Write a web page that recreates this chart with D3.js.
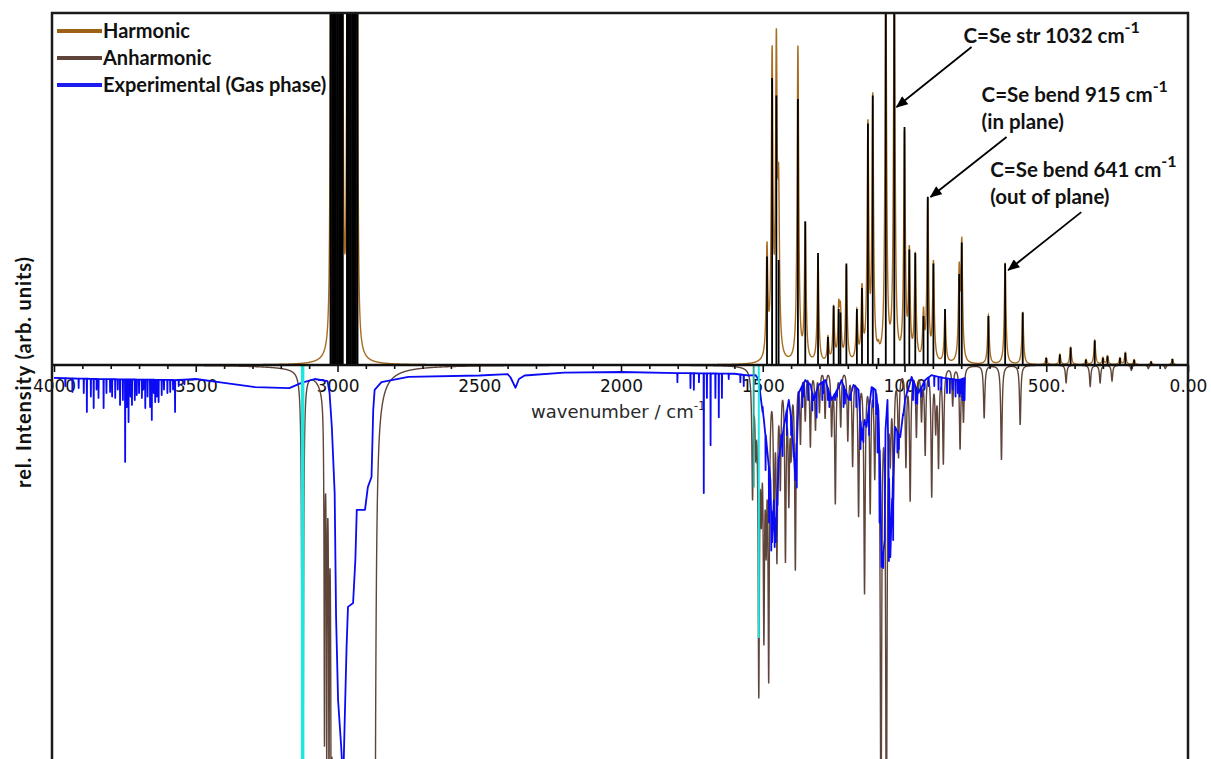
<!DOCTYPE html>
<html>
<head>
<meta charset="utf-8">
<script src="https://cdn.jsdelivr.net/npm/d3@7"></script>
<style>
  body { margin: 0; background: #fff; }
  svg { display: block; }
</style>
</head>
<body>
<svg id="chart" width="1211" height="759"></svg>
<script>
// harmonic stick spectrum, upward: [wavenumber, stick height, band amplitude]
const harmonicPeaks = [
  [3024, 1.1, 1.0], [3018, 1.1, 1.0], [3012, 1.1, 1.0], [3006, 1.1, 1.0], [3000, 1.1, 1.0],
  [2994, 1.1, 1.0], [2988, 1.1, 1.0], [2982, 1.1, 1.0],
  [2966, 1.1, 1.0], [2960, 1.1, 1.0], [2954, 1.1, 1.0], [2948, 1.1, 1.0], [2942, 1.1, 1.0],
  [2936, 1.1, 1.0], [2930, 1.1, 1.0],
  [1485, 0.31, 0.31], [1467, 0.82, 0.85], [1452, 0.77, 0.85], [1444, 0.30, 0.42], [1376, 0.76, 0.9],
  [1350, 0.41, 0.39], [1305, 0.32, 0.3], [1270, 0.08, 0.07], [1250, 0.17, 0.15], [1232, 0.16, 0.14],
  [1226, 0.15, 0.13], [1205, 0.29, 0.27], [1168, 0.16, 0.14], [1150, 0.22, 0.2], [1129, 0.69, 0.66],
  [1112, 0.77, 0.74], [1092, 0.02, 0.02], [1066, 1.2, 1.1], [1036, 1.2, 1.1], [1000, 0.68, 0.64],
  [983, 0.33, 0.3], [962, 0.32, 0.3], [933, 0.14, 0.13], [918, 0.48, 0.46], [898, 0.29, 0.28],
  [857, 0.16, 0.15], [807, 0.26, 0.25], [798, 0.35, 0.33], [704, 0.14, 0.14], [645, 0.29, 0.29],
  [583, 0.15, 0.15], [500, 0.02, 0.02], [452, 0.03, 0.03], [414, 0.05, 0.05], [360, 0.015, 0.015],
  [329, 0.07, 0.07], [300, 0.02, 0.02], [284, 0.025, 0.025], [240, 0.02, 0.02], [221, 0.035, 0.035],
  [190, 0.015, 0.015], [130, 0.01, 0.01], [55, 0.017, 0.017]
]

// anharmonic bands, drawn downward: C-H region [wavenumber, depth, hwhm]
const anharmonicCH = [
  [3123, 2.5, 2.0],
  [3046, 0.95, 1.5], [3038, 0.95, 1.5], [3030, 0.95, 1.5], [3022, 0.95, 1.5],
  [3014, 1.6, 4], [3006, 1.6, 4], [2998, 1.6, 4], [2990, 1.6, 4], [2982, 1.6, 4], [2974, 1.6, 4],
  [2966, 1.6, 4], [2958, 1.6, 4], [2950, 1.6, 4], [2942, 1.6, 4], [2934, 1.6, 4], [2926, 1.6, 4],
  [2918, 1.6, 4], [2910, 1.6, 4], [2902, 1.6, 4], [2894, 1.6, 4], [2886, 1.6, 4], [2878, 1.6, 4],
  [2870, 1.6, 4]
]

// anharmonic bands, fingerprint region: [wavenumber, depth]
const anharmonicFP = [
  [1536, 0.35], [1525, 0.18], [1514, 0.88], [1505, 0.3], [1496, 0.68], [1488, 0.38], [1479, 0.83],
  [1460, 0.4], [1450, 0.5], [1438, 0.3], [1420, 0.52], [1408, 0.34], [1400, 0.2], [1385, 0.56],
  [1367, 0.2], [1350, 0.14], [1332, 0.22], [1314, 0.17], [1300, 0.12], [1280, 0.14], [1257, 0.18],
  [1244, 0.38], [1225, 0.16], [1200, 0.2], [1183, 0.27], [1162, 0.41], [1141, 0.63], [1121, 0.39],
  [1105, 0.28], [1083, 1.4], [1064, 1.4], [1050, 0.2], [1039, 0.34], [1021, 0.24], [995, 0.27],
  [980, 0.37], [958, 0.19], [940, 0.14], [927, 0.24], [904, 0.36], [890, 0.16], [880, 0.27],
  [863, 0.27], [830, 0.11], [804, 0.23], [792, 0.15], [719, 0.15], [658, 0.27], [592, 0.17],
  [430, 0.05], [345, 0.06], [310, 0.05], [268, 0.045], [200, 0.015], [140, 0.01], [80, 0.01]
]

// experimental gas phase trace (depth below axis): [wavenumber, depth]
const expProfile = [
  [4000, 0.037], [3850, 0.04], [3570, 0.043], [3500, 0.04], [3400, 0.051], [3290, 0.063],
  [3170, 0.066], [3127, 0.051], [3080, 0.04], [3035, 0.046], [3028, 0.08], [3020, 0.177],
  [3010, 0.366], [3005, 0.72], [2998, 0.957], [2987, 1.09], [2980, 1.2], [2975, 1.03],
  [2968, 0.806], [2963, 0.691], [2945, 0.68], [2937, 0.557], [2932, 0.414], [2903, 0.414],
  [2893, 0.349], [2880, 0.32], [2874, 0.129], [2869, 0.071], [2845, 0.049], [2750, 0.034],
  [2500, 0.03], [2400, 0.026], [2390, 0.035], [2372, 0.065], [2360, 0.04], [2340, 0.03],
  [2200, 0.022], [2000, 0.02], [1800, 0.023], [1600, 0.025], [1550, 0.03],
  [1525, 0.029], [1514, 0.043], [1507, 0.094], [1496, 0.157], [1486, 0.229], [1473, 0.329],
  [1467, 0.506], [1461, 0.386], [1454, 0.506], [1444, 0.271], [1426, 0.177], [1408, 0.1],
  [1398, 0.157], [1385, 0.329], [1373, 0.08], [1350, 0.043], [1331, 0.057], [1320, 0.1],
  [1303, 0.057], [1279, 0.043], [1257, 0.1], [1232, 0.063], [1222, 0.043], [1197, 0.1],
  [1180, 0.057], [1162, 0.071], [1151, 0.214], [1141, 0.157], [1134, 0.177], [1116, 0.063],
  [1102, 0.071], [1092, 0.129], [1085, 0.329], [1081, 0.577], [1070, 0.5], [1067, 0.186],
  [1060, 0.1], [1050, 0.549], [1046, 0.443], [1033, 0.177], [1015, 0.206], [998, 0.1],
  [975, 0.034], [951, 0.08], [927, 0.043], [905, 0.029], [863, 0.037], [810, 0.043], [785, 0.037]
]

// sharp lines in the experimental trace: [wavenumber, depth]
const expSpikes = [
  [3960, 0.06], [3935, 0.077], [3913, 0.066], [3895, 0.08], [3884, 0.134], [3870, 0.09],
  [3860, 0.123], [3850, 0.07], [3843, 0.094], [3825, 0.123], [3815, 0.08], [3802, 0.077],
  [3795, 0.09], [3784, 0.094], [3775, 0.07], [3767, 0.114], [3757, 0.1], [3749, 0.277],
  [3743, 0.12], [3737, 0.163], [3730, 0.09], [3725, 0.114], [3715, 0.1], [3708, 0.086],
  [3700, 0.08], [3690, 0.094], [3685, 0.07], [3678, 0.123], [3670, 0.09], [3661, 0.12],
  [3655, 0.157], [3648, 0.08], [3643, 0.106], [3637, 0.09], [3631, 0.106], [3620, 0.086],
  [3612, 0.07], [3600, 0.08], [3590, 0.077], [3580, 0.07], [3573, 0.134], [3560, 0.06], [3540, 0.055],
  [1801, 0.049], [1755, 0.066], [1743, 0.071], [1725, 0.049], [1708, 0.366], [1697, 0.094],
  [1684, 0.229], [1667, 0.094], [1655, 0.149], [1644, 0.094], [1620, 0.04], [1579, 0.049],
  [1567, 0.06],
  [1500, 0.12], [1490, 0.3], [1478, 0.45], [1470, 0.53], [1458, 0.52], [1448, 0.4], [1435, 0.2],
  [1430, 0.26], [1415, 0.2], [1400, 0.2], [1390, 0.25], [1380, 0.35], [1360, 0.12], [1355, 0.09],
  [1340, 0.1], [1325, 0.13], [1310, 0.15], [1290, 0.1], [1285, 0.08], [1270, 0.1], [1265, 0.12],
  [1245, 0.1], [1238, 0.09], [1215, 0.12], [1210, 0.11], [1190, 0.1], [1170, 0.12], [1155, 0.24],
  [1145, 0.22], [1125, 0.2], [1110, 0.12], [1100, 0.14], [1095, 0.25], [1088, 0.45], [1075, 0.58],
  [1055, 0.56], [1043, 0.45], [1040, 0.5], [1025, 0.25], [1020, 0.24], [1005, 0.14], [990, 0.07],
  [970, 0.1], [960, 0.11], [955, 0.11], [940, 0.09], [930, 0.07], [915, 0.06], [895, 0.06],
  [880, 0.07], [870, 0.07], [850, 0.08], [840, 0.08], [830, 0.07], [820, 0.09], [812, 0.08],
  [805, 0.09], [800, 0.08], [795, 0.1], [790, 0.1], [788, 0.1]
]

// cyan marker lines below the axis: [wavenumber, depth]
const markerLines = [[3123, 1.2], [1532, 0.35], [1514, 0.78]]

const majorTicks = [4000, 3500, 3000, 2500, 2000, 1500, 1000, 500, 0]
const majorLabels = ['4000', '3500', '3000', '2500', '2000', '1500', '1000', '500.', '0.00']
const minorTicks = d3.range(3900, 0, -100).filter(v => v % 500 !== 0)

const legendItems = [
  { name: 'Harmonic', color: '#9c6114' },
  { name: 'Anharmonic', color: '#5f4439' },
  { name: 'Experimental (Gas phase)', color: '#1c1cf0' }
]

const annotations = [
  { lines: ['C=Se str 1032 cm'], wn: 1028, val: 0.737 },
  { lines: ['C=Se bend 915 cm', '(in plane)'], wn: 908, val: 0.48 },
  { lines: ['C=Se bend 641 cm', '(out of plane)'], wn: 634, val: 0.271 }
]

const svg = d3.select('#chart')
const frame = { left: 52, right: 1188, top: 13, bottom: 759 }

const x = d3.scaleLinear().domain([4000, 0]).range([54, 1188])
const y = d3.scaleLinear().domain([-1, 1]).range([715, 15])

svg.append('defs').append('clipPath').attr('id', 'plotclip')
  .append('rect')
  .attr('x', frame.left).attr('y', frame.top + 1)
  .attr('width', frame.right - frame.left).attr('height', frame.bottom - frame.top)

svg.append('defs').append('marker')
  .attr('id', 'arrow')
  .attr('viewBox', '0 0 12 10')
  .attr('refX', 11).attr('refY', 5)
  .attr('markerWidth', 13).attr('markerHeight', 10)
  .attr('markerUnits', 'userSpaceOnUse')
  .attr('orient', 'auto')
  .append('path').attr('d', 'M0,0 L12,5 L0,10 Z').attr('fill', '#000')

// tick labels sit behind the traces
const labelAxis = svg.append('g')
  .attr('transform', `translate(0,${y(0)})`)
  .call(d3.axisBottom(x).tickValues(majorTicks).tickSize(0).tickPadding(15)
    .tickFormat((d, i) => majorLabels[i]))
labelAxis.select('.domain').remove()
labelAxis.selectAll('text')
  .style('font-family', 'DejaVu Sans')
  .style('font-size', '17px')
  .attr('fill', '#111')

// axis title
const title = svg.append('text')
  .attr('x', 531).attr('y', 418)
  .style('font-family', 'DejaVu Sans')
  .style('font-size', '18px')
  .attr('fill', '#2a2a2a')
title.append('tspan').text('wavenumber / cm')
title.append('tspan').attr('dy', -8).style('font-size', '12px').text('-1')

// band shapes
const grid = d3.range(4000, -0.001, -0.25)
function lorentzSum(peaks, amp, width) {
  return grid.map(w => {
    let s = 0
    for (const p of peaks) {
      const g = width(p), d = w - p[0]
      s += amp(p) * g * g / (d * d + g * g)
    }
    return [w, s]
  })
}

const harmonicCurve = lorentzSum(harmonicPeaks, p => p[2], p => p[0] > 2500 ? 2.5 : 3.4)
const anhCH = lorentzSum(anharmonicCH, p => p[1], p => p[2])
const anhFP = lorentzSum(anharmonicFP, p => p[1], () => 2.8)
const anharmonicCurve = anhCH.map((d, i) => [d[0], -(d[1] + anhFP[i][1])])

const plot = svg.append('g').attr('clip-path', 'url(#plotclip)')
const line = d3.line().x(d => x(d[0])).y(d => y(d[1]))

// harmonic, upward
plot.append('path')
  .datum(harmonicCurve)
  .attr('d', line)
  .attr('fill', 'none')
  .attr('stroke', '#a86c20')
  .attr('stroke-width', 1.4)

plot.selectAll('line.stick')
  .data(harmonicPeaks)
  .join('line')
  .attr('class', 'stick')
  .attr('x1', d => x(d[0])).attr('x2', d => x(d[0]))
  .attr('y1', y(0)).attr('y2', d => y(d[1]))
  .attr('stroke', '#000')
  .attr('stroke-width', d => d[0] > 2500 ? 2.2 : 1.8)

// anharmonic, downward
plot.append('path')
  .datum(anharmonicCurve)
  .attr('d', line)
  .attr('fill', 'none')
  .attr('stroke', '#5f4439')
  .attr('stroke-width', 1.4)

// experimental
const baseAt = d3.scaleLinear()
  .domain(expProfile.map(d => d[0]))
  .range(expProfile.map(d => d[1]))
const expPts = expProfile.slice()
expSpikes.forEach(([w, t]) => {
  const b = baseAt(w)
  expPts.push([w + 0.7, b], [w, t], [w - 0.7, b])
})
expPts.sort((a, b) => b[0] - a[0])

plot.append('path')
  .datum(expPts.map(d => [d[0], -d[1]]))
  .attr('d', line)
  .attr('fill', 'none')
  .attr('stroke', '#0a0af5')
  .attr('stroke-width', 1.8)
  .attr('stroke-linejoin', 'round')

plot.selectAll('line.marker')
  .data(markerLines)
  .join('line')
  .attr('class', 'marker')
  .attr('x1', d => x(d[0])).attr('x2', d => x(d[0]))
  .attr('y1', y(0)).attr('y2', d => y(-d[1]))
  .attr('stroke', (d, i) => i === 1 ? '#2aa89a' : '#1ce6e0')
  .attr('stroke-width', (d, i) => i === 0 ? 3.5 : 2)

// axis line with ticks on top of the traces
const tickAxis = svg.append('g').attr('transform', `translate(0,${y(0)})`)
tickAxis.call(d3.axisBottom(x).tickValues(minorTicks).tickSize(4).tickSizeOuter(0).tickFormat(''))
tickAxis.append('g').call(d3.axisBottom(x).tickValues(majorTicks).tickSize(7).tickSizeOuter(0).tickFormat(''))
  .select('.domain').remove()
tickAxis.selectAll('.tick line').attr('stroke', '#111').attr('stroke-width', 1.6)
tickAxis.select('.domain').attr('stroke', '#111').attr('stroke-width', 2.5)
  .attr('d', `M${frame.left},0H${frame.right}`)

// frame
svg.append('path')
  .attr('d', `M${frame.left},${frame.bottom}V${frame.top}H${frame.right}V${frame.bottom}`)
  .attr('fill', 'none')
  .attr('stroke', '#1a1a1a')
  .attr('stroke-width', 2.5)

// y axis title
svg.append('text')
  .attr('transform', 'translate(31,372) rotate(-90)')
  .attr('text-anchor', 'middle')
  .style('font-family', 'Lato')
  .style('font-weight', 'bold')
  .style('font-size', '20px')
  .style('letter-spacing', '0.9px')
  .attr('fill', '#111')
  .text('rel. Intensity (arb. units)')

// legend
const legend = svg.append('g')
legendItems.forEach((it, i) => {
  const ly = 31 + i * 27
  legend.append('line')
    .attr('x1', 57).attr('x2', 102).attr('y1', ly).attr('y2', ly)
    .attr('stroke', it.color).attr('stroke-width', 4)
  legend.append('text')
    .attr('x', 103).attr('y', ly + 7)
    .style('font-family', 'Lato')
    .style('font-weight', 'bold')
    .style('font-size', '20px')
    .attr('fill', '#111')
    .text(it.name)
})

// annotations with arrows
const labelOffsets = [
  { tx: 67, ty: -64, ax: 75, ay: -60 },
  { tx: 51, ty: -95, ax: 76, ay: -60 },
  { tx: -18, ty: -93, ax: 73, ay: -58 }
]
const ann = svg.append('g')
annotations.forEach((a, i) => {
  const px = x(a.wn), py = y(a.val), o = labelOffsets[i]
  ann.append('line')
    .attr('x1', px + o.ax).attr('y1', py + o.ay)
    .attr('x2', px).attr('y2', py)
    .attr('stroke', '#000').attr('stroke-width', 1.8)
    .attr('marker-end', 'url(#arrow)')
  a.lines.forEach((ln, j) => {
    const t = ann.append('text')
      .attr('x', px + o.tx).attr('y', py + o.ty + j * 27)
      .style('font-family', 'Lato')
      .style('font-weight', 'bold')
      .style('font-size', '20.5px')
      .attr('fill', '#111')
    t.append('tspan').text(ln)
    if (j === 0) t.append('tspan').attr('dy', -10).style('font-size', '16px').text('-1')
  })
})
</script>
</body>
</html>
